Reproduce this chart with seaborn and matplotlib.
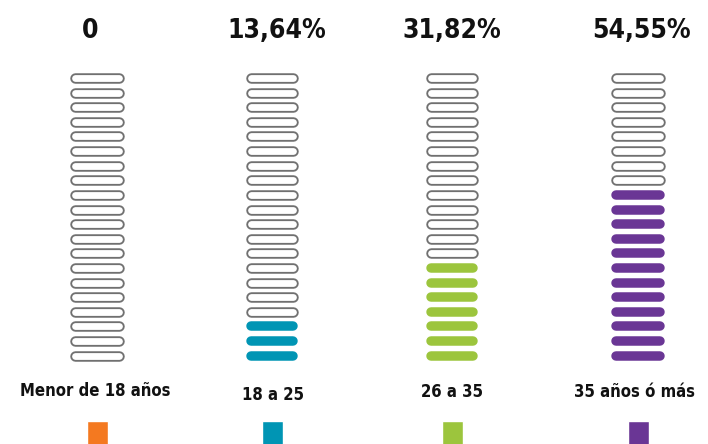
import matplotlib
matplotlib.use("Agg")
import matplotlib.pyplot as plt
import seaborn as sns
import numpy as np

# Age groups of respondents (22 people in total, 20 pills per column)
categories = ["Menor de 18 años", "18 a 25", "26 a 35", "35 años ó más"]
filled_counts = [0, 3, 7, 12]
percent_labels = ["0", "13,64%", "31,82%", "54,55%"]
colors = ["#F47920", "#0095B4", "#9CC53D", "#6A3695"]
n_pills = 20

sns.set_theme(style="white")
plt.rcParams["font.family"] = ["Liberation Sans Narrow", "DejaVu Sans"]
plt.rcParams["font.stretch"] = "condensed"

W, H = 708, 444
fig = plt.figure(figsize=(W / 100, H / 100), dpi=100)
ax = fig.add_axes([0, 0, 1, 1])
ax.set_xlim(0, W)
ax.set_ylim(H, 0)
ax.axis("off")

px = 72 / 100  # points per pixel
col_x = [97, 272, 452, 638]
half_len = [22, 21, 21, 22]
title_x = [90.5, 277, 451.5, 641]
label_x = [95.5, 273.5, 452, 635]
label_y = [391, 395, 392, 392]
y_bottom, step = 355.5, 14.6

for c, (cx, hl, n, col) in enumerate(zip(col_x, half_len, filled_counts, colors)):
    for i in range(n_pills):
        y = y_bottom - i * step
        xs = [cx - hl, cx + hl]
        if i < n:
            ax.plot(xs, [y, y], color=col, lw=9.5 * px, solid_capstyle="round")
        else:
            ax.plot(xs, [y, y], color="#707070", lw=10.5 * px, solid_capstyle="round")
            ax.plot(xs, [y, y], color="white", lw=6.8 * px, solid_capstyle="round")

    ax.text(title_x[c], 31, percent_labels[c], ha="center", va="center",
            fontsize=19, fontweight="bold", fontstretch="condensed", color="#111111")
    ax.text(label_x[c], label_y[c], categories[c], ha="center", va="center",
            fontsize=12, fontweight="bold", fontstretch="condensed", color="#111111")

# colour keys under each label
ax.bar(col_x, [30] * 4, bottom=421, width=21, color=colors)

fig.savefig("out.png", dpi=100)
